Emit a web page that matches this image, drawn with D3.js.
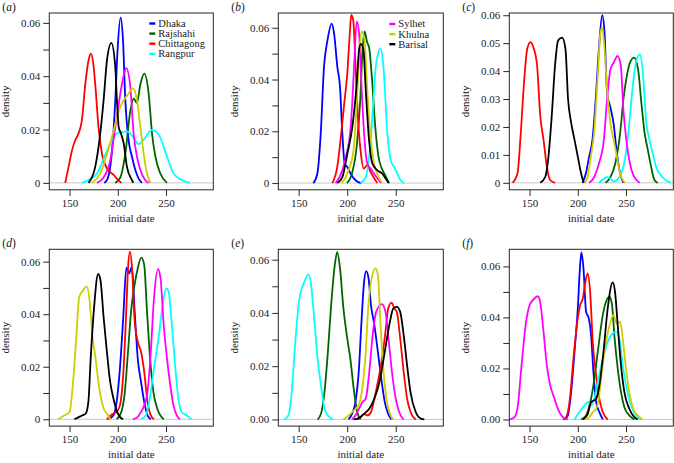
<!DOCTYPE html>
<html>
<head>
<meta charset="utf-8">
<script src="https://cdn.jsdelivr.net/npm/d3@7"></script>
<style>
  html, body { margin: 0; padding: 0; background: #fff; }
  svg { display: block; }
</style>
</head>
<body>
<div id="chart"></div>
<script>
// --- 1. DATA ---
const DISTRICTS = ["Dhaka", "Rajshahi", "Chittagong", "Rangpur", "Sylhet", "Khulna", "Barisal"];
const COLORS = ["#0000ff", "#006400", "#ff0000", "#00ffff", "#ff00ff", "#cdcd00", "#000000"];
const PANEL_IDS = ["a", "b", "c", "d", "e", "f"];
const X_TICKS = [150, 200, 250];
const X_LIMITS = [129, 299];
const Y_LIMITS = [[-0.0026, 0.0637], [-0.0026, 0.0657], [-0.0025, 0.0608],
                  [-0.0026, 0.0647], [-0.0025, 0.0639], [-0.0026, 0.0667]];
const Y_LABEL_STEP = [0.02, 0.02, 0.01, 0.02, 0.02, 0.02];
const Y_ZERO_LABEL = ["0", "0", "0", "0", "0.00", "0.00"];
const LEGEND_A = ["Dhaka", "Rajshahi", "Chittagong", "Rangpur"];
const LEGEND_B = ["Sylhet", "Khulna", "Barisal"];

// density curves, [initial date, density]
const PANEL_A = {
  Dhaka: [[186,0],[188.8,0.001],[194,0.012],[197.4,0.031],[199.8,0.05],[202.9,0.062],[205.4,0.0535],[207.8,0.031],[211.2,0.016],[214.7,0.0098],[218.2,0.0048],[221.6,0.0016],[225,0]],
  Rajshahi: [[197.4,0],[202.6,0.002],[207.8,0.011],[213,0.027],[216.4,0.0316],[219.9,0.03],[223.4,0.037],[227.5,0.041],[232,0.0335],[235.5,0.0185],[239,0.0098],[244.1,0.0035],[251,0]],
  Chittagong: [[145.5,0],[149,0.006],[152.4,0.012],[155.9,0.016],[159.3,0.0185],[162.8,0.0235],[166.3,0.037],[169.7,0.046],[172.1,0.0485],[174.5,0.045],[176.6,0.037],[180,0.021],[183.6,0.011],[188.8,0.0054],[195.7,0.003],[200,0.0012],[204,0]],
  Rangpur: [[163,0],[170,0.0012],[178.4,0.0035],[188.8,0.012],[199.1,0.0185],[204,0.019],[209.5,0.0193],[216.4,0.017],[221.6,0.0145],[228.5,0.017],[235,0.0198],[239,0.0195],[244.1,0.017],[251,0.0098],[257.9,0.0035],[266.6,0.001],[275,0]],
  Sylhet: [[178.4,0],[185.3,0.002],[192.2,0.0085],[199.1,0.025],[204.3,0.037],[208.8,0.043],[213,0.036],[216.4,0.0185],[219.9,0.0098],[223.4,0.0048],[228.5,0.001],[232,0]],
  Khulna: [[173.2,0],[181.8,0.0035],[192.2,0.015],[202.6,0.0285],[211.2,0.0335],[215.7,0.0354],[219.9,0.031],[223.4,0.021],[226.8,0.011],[230.3,0.0035],[234,0]],
  Barisal: [[169.7,0],[176.6,0.006],[181.8,0.0185],[185.3,0.031],[188.8,0.046],[193.3,0.0525],[197.4,0.0435],[199.1,0.031],[200.9,0.021],[203.3,0.0185],[206,0.015],[209.5,0.006],[214.7,0.001],[216,0]]
};
const PANEL_B = {
  Dhaka: [[165.1,0],[169.2,0.0036],[172.7,0.019],[176.1,0.045],[179.6,0.055],[184,0.0616],[186.4,0.058],[189.8,0.045],[192.6,0.037],[195,0.019],[197.4,0.0075],[200.2,0.0062],[203.6,0.0036],[208.8,0.001],[214,0]],
  Rajshahi: [[199.7,0],[204.8,0.0036],[210,0.015],[213.4,0.032],[215.8,0.0515],[217.9,0.0586],[220.3,0.0547],[222.7,0.052],[225.4,0.041],[228.9,0.0217],[232.3,0.01],[235.7,0.0056],[239.2,0.003],[243,0]],
  Chittagong: [[184.7,0],[189.7,0.0062],[193.1,0.0166],[196.6,0.0295],[200,0.042],[202.7,0.058],[204.1,0.065],[206.2,0.063],[208.6,0.045],[211,0.0256],[213.7,0.0127],[217.1,0.0056],[220.6,0.0069],[224,0.0043],[229.2,0.001],[231,0]],
  Rangpur: [[213.9,0],[219.1,0.0023],[224.2,0.0166],[227,0.032],[229.4,0.045],[231.8,0.05],[234.5,0.052],[237.3,0.045],[241.4,0.019],[244.8,0.0088],[248.3,0.0062],[251.7,0.0036],[255.2,0.001],[258.6,0]],
  Sylhet: [[188.1,0],[195,0.0049],[198.5,0.01],[203.6,0.0217],[207.1,0.045],[209.8,0.0625],[212.2,0.058],[214.6,0.0385],[217.4,0.019],[220.8,0.0075],[224.2,0.0056],[227.7,0.0036],[232.8,0.001],[235,0]],
  Khulna: [[194.5,0],[201.4,0.0049],[206.5,0.0127],[210,0.032],[212.7,0.0515],[215.1,0.0586],[217.9,0.055],[220.3,0.0385],[223.7,0.019],[227.1,0.0088],[232.3,0.0023],[236,0]],
  Barisal: [[189.9,0],[195,0.0023],[200.2,0.0114],[205.3,0.0217],[209.8,0.0385],[212.2,0.0515],[213.9,0.0538],[216.7,0.0515],[219.1,0.036],[222.5,0.0166],[226,0.0075],[231.1,0.0049],[236.3,0.0036],[239.7,0.0017],[243,0]]
};
const PANEL_C = {
  Dhaka: [[205,0],[208.4,0.0034],[211.8,0.0094],[215.2,0.0154],[218.6,0.03],[221.9,0.048],[225.3,0.06],[227.7,0.054],[230.4,0.032],[233.8,0.027],[237.2,0.021],[240.5,0.0106],[243.9,0.0034],[247.3,0]],
  Rajshahi: [[228.7,0],[233.8,0.002],[238.9,0.007],[243.9,0.0178],[247.3,0.03],[250.7,0.038],[254.1,0.043],[258.4,0.0448],[262.5,0.0406],[265.9,0.0286],[269.3,0.0178],[272.6,0.0118],[276,0.0058],[279.4,0.001],[282.8,0]],
  Chittagong: [[132.4,0],[137.5,0.0034],[140.9,0.0178],[144.3,0.036],[147.6,0.048],[151,0.0504],[154.4,0.048],[157.8,0.042],[161.1,0.024],[164.5,0.0154],[167.9,0.0058],[171.3,0.001],[176.4,0]],
  Rangpur: [[222,0],[226,0.0012],[230.4,0.002],[234,0.0015],[237,0.0005],[240.5,0.001],[247.3,0.0058],[252.4,0.0178],[257.4,0.036],[260.8,0.044],[264.2,0.046],[267.6,0.039],[270.9,0.022],[274.3,0.0154],[277.7,0.0106],[281.1,0.0058],[287.8,0.002],[296.3,0]],
  Sylhet: [[211.8,0],[216.9,0.002],[222,0.007],[227,0.0154],[230.4,0.03],[233.8,0.0406],[237.2,0.043],[241.2,0.0454],[244.6,0.042],[247.3,0.026],[250.7,0.0142],[255.7,0.0046],[260.8,0.001],[264.2,0]],
  Khulna: [[206.8,0],[210.1,0.002],[213.5,0.0094],[216.9,0.0178],[220.3,0.036],[223.6,0.054],[225.3,0.0556],[227.7,0.048],[230.4,0.033],[233.8,0.0214],[237.2,0.0154],[240.5,0.0094],[243.9,0.0034],[249,0]],
  Barisal: [[161.1,0],[166.2,0.002],[169.6,0.0094],[173,0.024],[176.4,0.042],[179.7,0.051],[183.8,0.052],[187.2,0.048],[189.9,0.03],[193.2,0.0214],[196.6,0.0154],[200,0.0094],[203.4,0.0034],[206.1,0]]
};
const PANEL_D = {
  Dhaka: [[190.4,0],[195.5,0.0015],[198.8,0.0066],[202.2,0.0193],[205.6,0.0384],[208.9,0.0577],[211.6,0.0555],[214.6,0.058],[217.3,0.0422],[220.7,0.0231],[224.1,0.0142],[227.4,0.0066],[230.8,0.0015],[234.2,0]],
  Rajshahi: [[198.8,0],[203.9,0.003],[207.3,0.0104],[210.6,0.0257],[214,0.042],[217.3,0.051],[220.7,0.0575],[224.4,0.0615],[227.4,0.0587],[230.1,0.0422],[233.5,0.0231],[236.9,0.0104],[240.9,0.0041],[247.6,0]],
  Chittagong: [[188.7,0],[193.8,0.0018],[198.8,0.0028],[202.2,0.0053],[205.6,0.0168],[208.9,0.0422],[210.6,0.0575],[212.6,0.0638],[215,0.0562],[217.3,0.0384],[220.7,0.0295],[224.1,0.0257],[227.4,0.018],[230.8,0.0066],[234.2,0.0015],[237.5,0]],
  Rangpur: [[224.1,0],[229.1,0.0015],[232.5,0.0066],[237.5,0.0193],[242.6,0.032],[247,0.0447],[250.3,0.0498],[252.7,0.0486],[256.1,0.0358],[259.4,0.0206],[262.8,0.0079],[266.2,0.0028],[271.2,0.0015],[276.3,0]],
  Sylhet: [[215.7,0],[220.7,0.0009],[224.1,0.0028],[227.4,0.0053],[230.8,0.0104],[234.2,0.0257],[237.5,0.046],[241.6,0.0571],[244.3,0.0536],[247.6,0.0358],[251,0.0231],[254.4,0.013],[257.7,0.0053],[261.1,0.0015],[264.5,0]],
  Khulna: [[138.2,0],[144.9,0.0015],[150,0.0028],[153.4,0.013],[156.7,0.0295],[160,0.0465],[163,0.0486],[167.8,0.0505],[170.9,0.0447],[173.6,0.032],[177,0.0231],[180.3,0.013],[185.4,0.0041],[188.7,0.0022],[192.1,0]],
  Barisal: [[155,0],[160.1,0.0009],[163.5,0.0015],[166.8,0.0022],[169.5,0.0066],[171.9,0.0231],[175.3,0.042],[179.6,0.0553],[182,0.053],[185.4,0.0384],[188.7,0.0257],[192.1,0.0142],[195.5,0.0079],[198.8,0.0034],[202.2,0.0009],[205.6,0]]
};
const PANEL_E = {
  Dhaka: [[201.4,0],[205,0.0021],[208.5,0.0065],[212.1,0.0191],[214.5,0.0354],[217.4,0.0517],[219.5,0.0557],[222,0.053],[224.5,0.0429],[228,0.0354],[231.6,0.0254],[235.1,0.0153],[238.7,0.0065],[242.2,0.0021],[245.7,0]],
  Rajshahi: [[169.5,0],[173,0.0021],[176.6,0.0103],[180.1,0.0254],[183.7,0.0442],[187.2,0.058],[189.7,0.0628],[192.6,0.0567],[196.1,0.0417],[199.6,0.0316],[203.2,0.0228],[206.7,0.0115],[210.3,0.0028],[213.8,0]],
  Chittagong: [[210.3,0],[213.8,0.0009],[217.4,0.0021],[220.9,0.0015],[224.5,0.0028],[228,0.0078],[231.6,0.0141],[235.8,0.0228],[239.4,0.0329],[242.2,0.0417],[245.7,0.0439],[248.6,0.0417],[251.1,0.0404],[254.6,0.0304],[258.2,0.0178],[261.7,0.0078],[265.2,0.0028],[270.6,0]],
  Rangpur: [[135.1,0],[139.4,0.0015],[142.9,0.0103],[146.5,0.0291],[150.7,0.0454],[155.3,0.0511],[159.9,0.0545],[162.4,0.0517],[166,0.0379],[169.5,0.0228],[173,0.0128],[176.6,0.004],[180.1,0.0015],[185.5,0]],
  Sylhet: [[205,0],[208.5,0.0015],[212.1,0.004],[215.6,0.0065],[219.1,0.0078],[222.7,0.0178],[226.2,0.0316],[229.8,0.0404],[235.8,0.0433],[239.4,0.0404],[242.9,0.0291],[246.5,0.0166],[250,0.0078],[253.5,0.0028],[258.2,0]],
  Khulna: [[196.1,0],[201.4,0.0015],[207,0.0034],[210.3,0.0046],[213.8,0.0078],[216.7,0.0153],[219.1,0.0254],[221.6,0.0417],[224.5,0.0517],[229.1,0.0567],[231.6,0.0542],[234.4,0.0354],[236.9,0.0203],[240.4,0.0078],[244,0.0021],[247.5,0]],
  Barisal: [[206.7,0],[212.1,0.0005],[217.4,0.0021],[222.7,0.004],[228,0.0078],[233.3,0.0141],[238.7,0.0254],[244,0.0367],[247.5,0.0417],[251.1,0.0423],[254.6,0.0404],[258.2,0.0316],[261.7,0.0203],[265.2,0.0103],[270.6,0.0028],[275.9,0.0003],[279.4,0]]
};
const PANEL_F = {
  Dhaka: [[186.2,0],[189.7,0.0016],[193.1,0.0107],[196.6,0.0265],[200,0.0435],[202.4,0.0605],[203.8,0.0655],[205.9,0.0592],[208.6,0.0422],[211.4,0.0396],[213.8,0.033],[216.2,0.0186],[219,0.0068],[222.4,0.0029],[225.9,0]],
  Rajshahi: [[203.4,0],[208.6,0.0016],[212.1,0.0055],[216.2,0.0134],[220.7,0.0265],[225.9,0.0409],[232.8,0.0481],[235.5,0.0448],[237.9,0.033],[241.4,0.0199],[244.8,0.0107],[248.3,0.0048],[253.4,0.0016],[258.6,0]],
  Chittagong: [[184.5,0],[187.9,0.0009],[191.4,0.0068],[195.5,0.0238],[199,0.0369],[202.4,0.0448],[205.2,0.0474],[207.9,0.054],[210.3,0.0573],[212.8,0.05],[215.5,0.0304],[219,0.0173],[222.4,0.0081],[225.9,0.0029],[231,0]],
  Rangpur: [[196.6,0],[201.7,0.0029],[206.9,0.0055],[210.3,0.0068],[213.8,0.0055],[217.2,0.0081],[220.7,0.0147],[225.9,0.0238],[231,0.0304],[236.2,0.0337],[239.7,0.0343],[243.1,0.0317],[246.6,0.0212],[250,0.0134],[255.2,0.0055],[260.3,0.0016],[265.5,0]],
  Sylhet: [[129.3,0],[134.5,0.0009],[137.9,0.0055],[141.4,0.0199],[145.9,0.0369],[150,0.0448],[154,0.047],[158.6,0.0483],[161,0.0461],[164.5,0.0343],[167.9,0.0212],[171.4,0.0134],[175.9,0.0081],[179.3,0.0042],[184.5,0.0009],[189.7,0]],
  Khulna: [[208.6,0],[212.1,0.0009],[215.5,0.0029],[219,0.0042],[221.7,0.0081],[224.1,0.016],[227.6,0.0265],[232.1,0.0356],[236.9,0.0409],[240.3,0.0376],[243.8,0.0383],[246.6,0.0317],[250,0.0199],[253.4,0.0107],[256.9,0.0048],[262.1,0.0016],[267.2,0]],
  Barisal: [[205.2,0],[210.3,0.0022],[213.8,0.0068],[217,0.0075],[219,0.0081],[222.4,0.0134],[226.6,0.0265],[231,0.0435],[236.2,0.0537],[238.6,0.05],[241.4,0.0369],[244.8,0.0212],[248.3,0.0107],[253.4,0.0042],[258.6,0.0009],[262.1,0]]
};
const PANELS = [PANEL_A, PANEL_B, PANEL_C, PANEL_D, PANEL_E, PANEL_F];

// --- 2. LAYOUT ---
const FONT = '"Liberation Serif", "Times New Roman", Times, "DejaVu Serif", serif';
const width = 674, height = 463;
const colLeft = [49.3, 278.3, 509.3];
const colWidth = [164, 165, 164];
const rowTop = [13, 249.3];
const plotH = 176.8;
const color = d3.scaleOrdinal().domain(DISTRICTS).range(COLORS);

const svg = d3.select("#chart").append("svg")
    .attr("width", width).attr("height", height)
    .attr("font-family", FONT);

const defs = svg.append("defs");

PANEL_IDS.forEach((id, i) => drawPanel(id, i));

// --- 3. DRAW ONE PANEL ---
function drawPanel(id, i) {
    const col = i % 3, row = Math.floor(i / 3);
    const left = colLeft[col], top = rowTop[row];
    const w = colWidth[col], h = plotH;

    const x = d3.scaleLinear().domain(X_LIMITS).range([0, w]);
    const y = d3.scaleLinear().domain(Y_LIMITS[i]).range([h, 0]);

    const g = svg.append("g").attr("transform", `translate(${left},${top})`);

    defs.append("clipPath").attr("id", "clip-" + id)
      .append("rect").attr("width", w).attr("height", h);

    // zero line
    g.append("line")
        .attr("x1", 0).attr("x2", w)
        .attr("y1", y(0)).attr("y2", y(0))
        .attr("stroke", "#c8c8c8").attr("stroke-width", 1);

    // curves
    const line = d3.line()
        .x(d => x(d[0])).y(d => y(d[1]))
        .curve(d3.curveMonotoneX);

    const data = PANELS[i];
    g.append("g").attr("clip-path", `url(#clip-${id})`)
      .selectAll("path")
      .data(DISTRICTS.filter(k => data[k]))
      .join("path")
        .attr("d", k => line(data[k]))
        .attr("fill", "none")
        .attr("stroke", k => color(k))
        .attr("stroke-width", 1.8)
        .attr("stroke-linejoin", "round");

    // box
    g.append("rect").attr("width", w).attr("height", h)
        .attr("fill", "none").attr("stroke", "#262626").attr("stroke-width", 1);

    // x axis
    const xAxis = g.append("g").attr("transform", `translate(0,${h})`)
        .call(d3.axisBottom(x).tickValues(X_TICKS).tickSize(6).tickPadding(3).tickFormat(d3.format("d")));
    xAxis.select(".domain").remove();

    // y axis: minor ticks every 0.01, labels every step
    const yTicks = d3.range(0, 0.0601, 0.01).map(v => +v.toFixed(2));
    const step = Y_LABEL_STEP[i];
    const yAxis = g.append("g")
        .call(d3.axisLeft(y).tickValues(yTicks).tickSize(6).tickPadding(3)
          .tickFormat(v => {
              if (Math.abs(Math.round(v / step) * step - v) > 1e-9) return "";
              return v === 0 ? Y_ZERO_LABEL[i] : d3.format(".2f")(v);
          }));
    yAxis.select(".domain").remove();

    [xAxis, yAxis].forEach(ax => {
        ax.attr("font-family", FONT).attr("font-size", 11);
        ax.selectAll(".tick line").attr("stroke", "#262626");
        ax.selectAll(".tick text").attr("fill", "#1a1a1a");
    });

    // titles
    g.append("text")
        .attr("x", w / 2).attr("y", h + 32)
        .attr("text-anchor", "middle").attr("font-size", 11).attr("fill", "#1a1a1a")
        .text("initial date");
    g.append("text")
        .attr("transform", `translate(-40,${h / 2}) rotate(-90)`)
        .attr("text-anchor", "middle").attr("font-size", 11).attr("fill", "#1a1a1a")
        .text("density");

    const lab = g.append("text").attr("x", -47).attr("y", -2.5)
        .attr("font-size", 11.5).attr("fill", "#1a1a1a");
    lab.append("tspan").text("(");
    lab.append("tspan").attr("font-style", "italic").text(id);
    lab.append("tspan").text(")");

    // legends in the first two panels
    if (id === "a") drawLegend(g, LEGEND_A, 100, 10.5);
    if (id === "b") drawLegend(g, LEGEND_B, 111, 11);
}

function drawLegend(g, names, x0, y0) {
    const item = g.append("g").selectAll("g").data(names).join("g")
        .attr("transform", (d, k) => `translate(${x0},${y0 + k * 10.1})`);
    item.append("line")
        .attr("x1", 0).attr("x2", 6)
        .attr("stroke", d => color(d)).attr("stroke-width", 2.4);
    item.append("text")
        .attr("x", 9).attr("dy", "0.33em")
        .attr("font-size", 10.5).attr("fill", "#1a1a1a")
        .text(d => d);
}
</script>
</body>
</html>
